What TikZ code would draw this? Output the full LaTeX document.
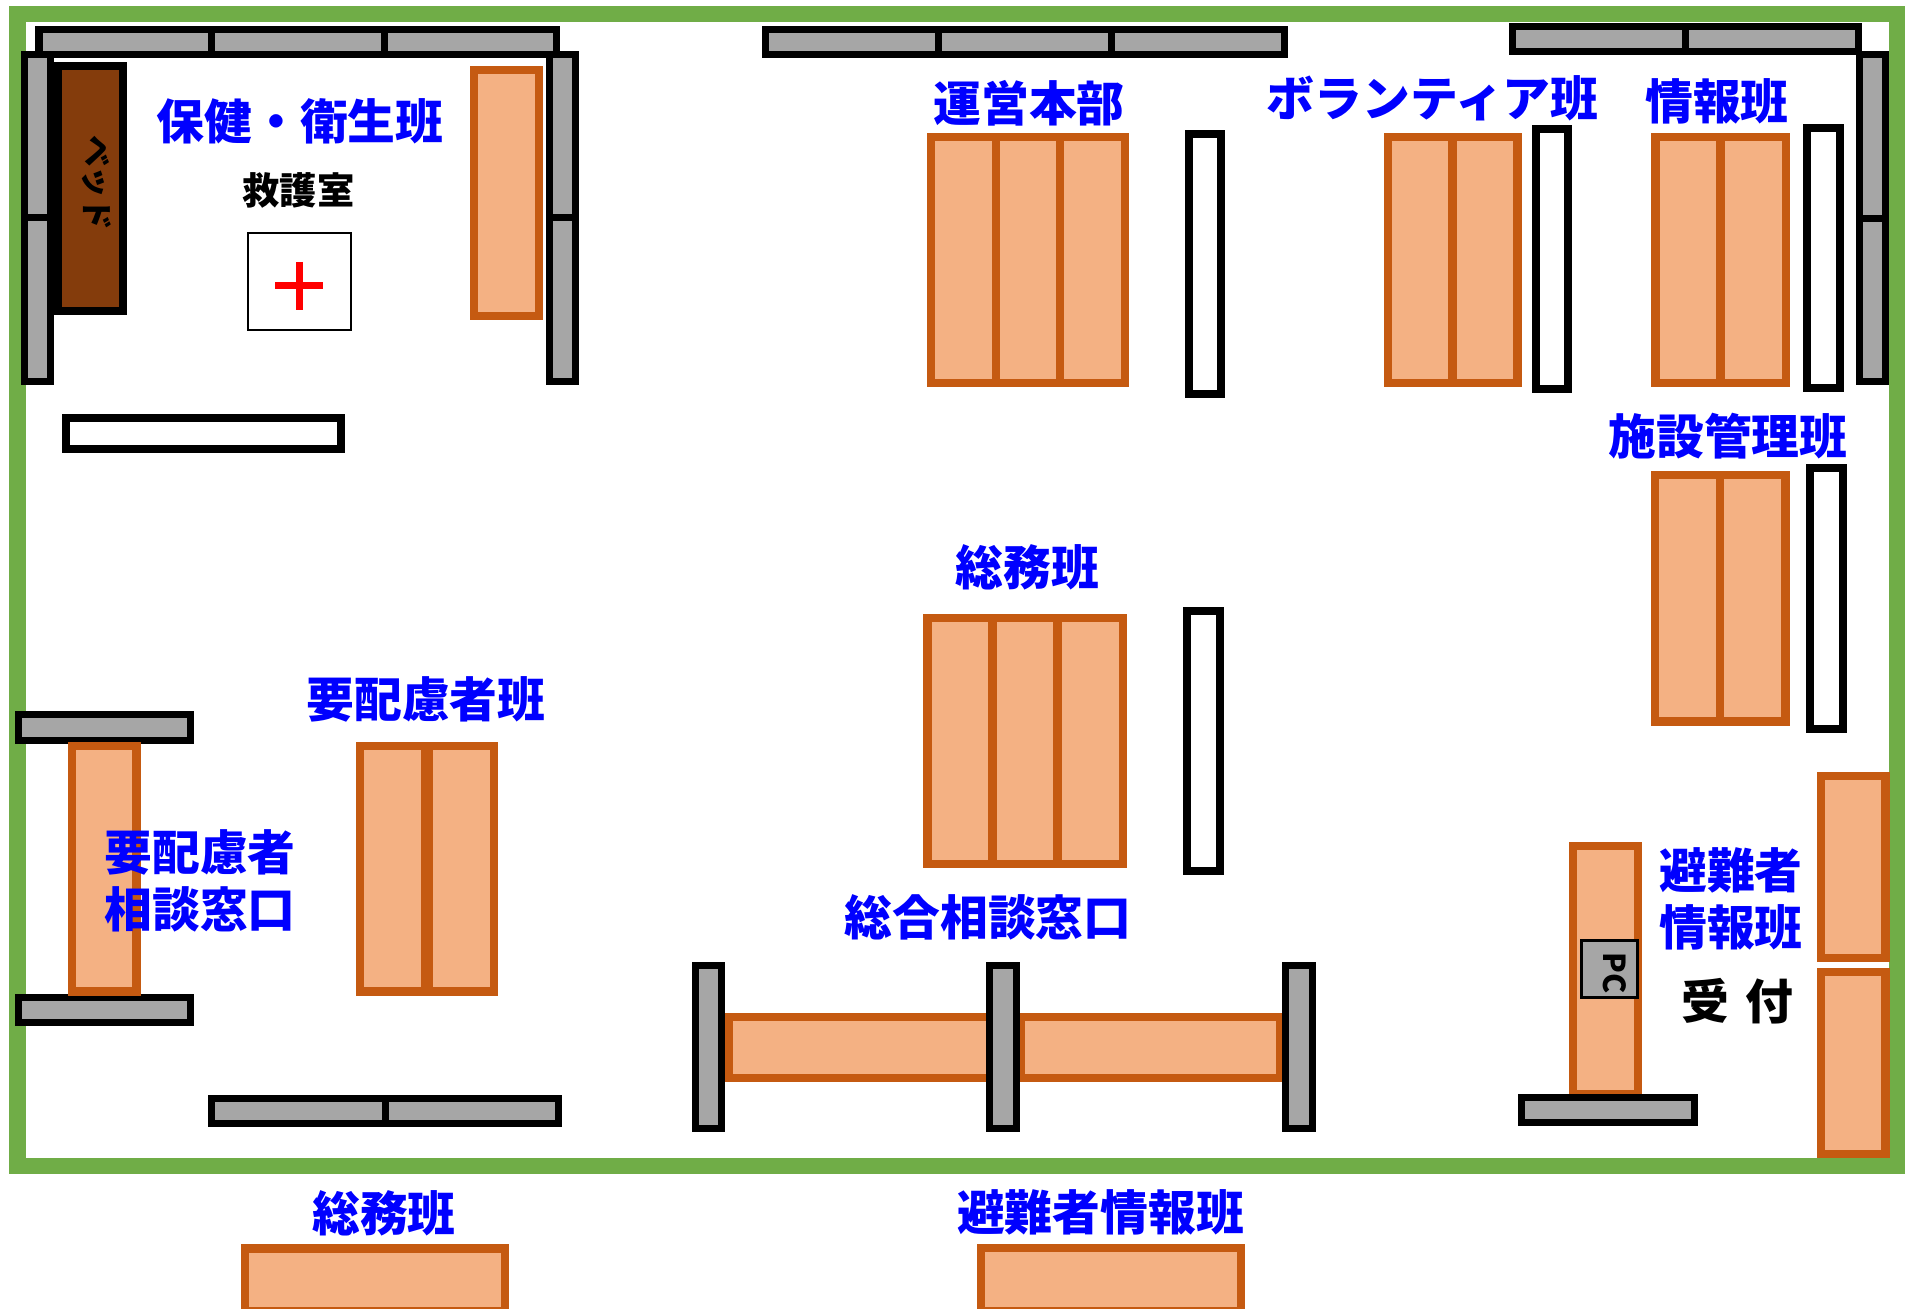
\documentclass[tikz,border=0pt]{standalone}
\usepackage{fontspec}
\newfontfamily\jpfont{Noto Sans CJK JP}

\tikzset{
  frame/.style={draw=frameColor, line width=0.16cm},
  desk/.style={draw=deskEdge, fill=deskFill, line width=0.085cm},
  shelf/.style={draw=black, fill=shelfFill, line width=0.07cm},
  board/.style={draw=black, fill=white, line width=0.08cm},
  bed/.style={draw=black, fill=bedFill, line width=0.08cm},
  team/.style={text=blue, inner sep=0pt, align=center, font=\jpfont\bfseries\fontsize{13.6}{16.2}\selectfont},
  room/.style={text=black, inner sep=0pt, font=\jpfont\bfseries\fontsize{13.6}{16.2}\selectfont},
}
\definecolor{frameColor}{HTML}{70AD47}
\definecolor{deskEdge}{HTML}{C55A11}
\definecolor{deskFill}{HTML}{F4B183}
\definecolor{shelfFill}{HTML}{A6A6A6}
\definecolor{bedFill}{HTML}{843C0C}

\begin{document}
\begin{tikzpicture}[x=0.01cm, y=-0.01cm]
\useasboundingbox (0,-0.8) rectangle (1912,1307.2);

\draw[frame] (17.5,13.3) rectangle (1897,1165);

% Shelves along the top
\draw[shelf] (39,28.5) rectangle (211,53.5);
\draw[shelf] (211,28.5) rectangle (384.5,53.5);
\draw[shelf] (384.5,28.5) rectangle (556.5,53.5);
\draw[shelf] (765,28.5) rectangle (938,53.5);
\draw[shelf] (938,28.5) rectangle (1111.5,53.5);
\draw[shelf] (1111.5,28.5) rectangle (1284.5,53.5);
\draw[shelf] (1512,26) rectangle (1685,50.5);
\draw[shelf] (1685,26) rectangle (1858,50.5);

% Shelves along the sides
\draw[shelf] (24.5,54) rectangle (50.5,217);
\draw[shelf] (24.5,217) rectangle (50.5,381);
\draw[shelf] (549.5,54) rectangle (575.5,217);
\draw[shelf] (549.5,217) rectangle (575.5,381);
\draw[shelf] (1859,54) rectangle (1885.5,218);
\draw[shelf] (1859,218) rectangle (1885.5,381);

% First aid room
\draw[bed] (58,64.7) rectangle (123,310);
\draw[desk] (474,69) rectangle (539,315);
\draw[draw=black, fill=white, line width=0.02cm] (248,232.5) rectangle (351,329.5);
\draw[draw=red, line width=0.07cm] (275,285) -- (323,285);
\draw[draw=red, line width=0.07cm] (299,261) -- (299,309);
\draw[board] (66,417) rectangle (340.5,448.5);

% Top row of desks
\draw[desk] (931,136) rectangle (996,382);
\draw[desk] (996,136) rectangle (1060,382);
\draw[desk] (1060,136) rectangle (1125,382);
\draw[board] (1188.7,133) rectangle (1221,393);
\draw[desk] (1388,136) rectangle (1452.6,382);
\draw[desk] (1452.6,136) rectangle (1517.5,382);
\draw[board] (1535.5,128) rectangle (1568,388);
\draw[desk] (1655.5,136) rectangle (1720.7,382);
\draw[desk] (1720.7,136) rectangle (1786,382);
\draw[board] (1807,127) rectangle (1840,387);

% Middle desks
\draw[desk] (1655,474) rectangle (1720,720.7);
\draw[desk] (1720,474) rectangle (1785.7,720.7);
\draw[board] (1810,467) rectangle (1843,728);
\draw[desk] (927.7,617) rectangle (992.7,863);
\draw[desk] (992.7,617) rectangle (1057.7,863);
\draw[desk] (1057.7,617) rectangle (1123,863);
\draw[board] (1187,610) rectangle (1220,870);

% Left side
\draw[shelf] (18.3,713.7) rectangle (190.7,739.5);
\draw[shelf] (18.3,996.5) rectangle (190.7,1021.5);
\draw[desk] (72,745) rectangle (136.6,990.7);
\draw[desk] (360,745) rectangle (425,990.7);
\draw[desk] (429,745) rectangle (494,990.7);
\draw[shelf] (211.6,1097.5) rectangle (385,1122.5);
\draw[shelf] (385,1097.5) rectangle (558,1122.5);

% Counter
\draw[desk] (729,1016) rectangle (990,1077);
\draw[desk] (1020.5,1016) rectangle (1280.5,1077);
\draw[shelf] (695.5,964.5) rectangle (721.5,1128);
\draw[shelf] (989.5,964.5) rectangle (1016,1128);
\draw[shelf] (1285.5,964.5) rectangle (1312,1128);

% Reception
\draw[desk] (1573,845) rectangle (1638,1093);
\draw[shelf] (1521.5,1096.5) rectangle (1694.5,1121.5);
\draw[draw=black, fill=shelfFill, line width=0.03cm] (1581,940) rectangle (1637.5,996.5);
\draw[desk] (1821,775) rectangle (1885.7,957);
\draw[desk] (1821,971) rectangle (1885.7,1153);

% Outside
\draw[desk] (245,1247.5) rectangle (505,1310);
\draw[desk] (981,1247) rectangle (1241,1310);

% Labels
\node[team] (hoken) at (300,120.5) {保健・衛生班};
\node[room, font=\jpfont\bfseries\fontsize{10.6}{13}\selectfont] (kyugo) at (298.6,190) {救護室};
\node[room, rotate=-90, font=\jpfont\bfseries\fontsize{9}{12}\selectfont] (bedtext) at (97,182) {ベッド};
\node[team] (unei) at (1029,102) {運営本部};
\node[team] (vol) at (1432.5,97) {ボランティア班};
\node[team] (joho) at (1717,100.5) {情報班};
\node[team] (shisetsu) at (1728,435) {施設管理班};
\node[team] (somu) at (1027.5,567) {総務班};
\node[team] (yohai) at (426,699) {要配慮者班};
\node[team] (yosodan) at (200,880.5) {要配慮者\\相談窓口};
\node[team] (sogo) at (988,917) {総合相談窓口};
\node[team] (hinan) at (1731,898.5) {避難者\\情報班};
\node[room] (uketsuke) at (1737,1000) {受\hspace{1.5pt} 付};
\node[rotate=-90, inner sep=0pt, font=\jpfont\bfseries\fontsize{8.6}{10}\selectfont] (pc) at (1615,972) {PC};
\node[team] (somu2) at (384,1212) {総務班};
\node[team] (hinan2) at (1100.6,1212) {避難者情報班};

\end{tikzpicture}
\end{document}
